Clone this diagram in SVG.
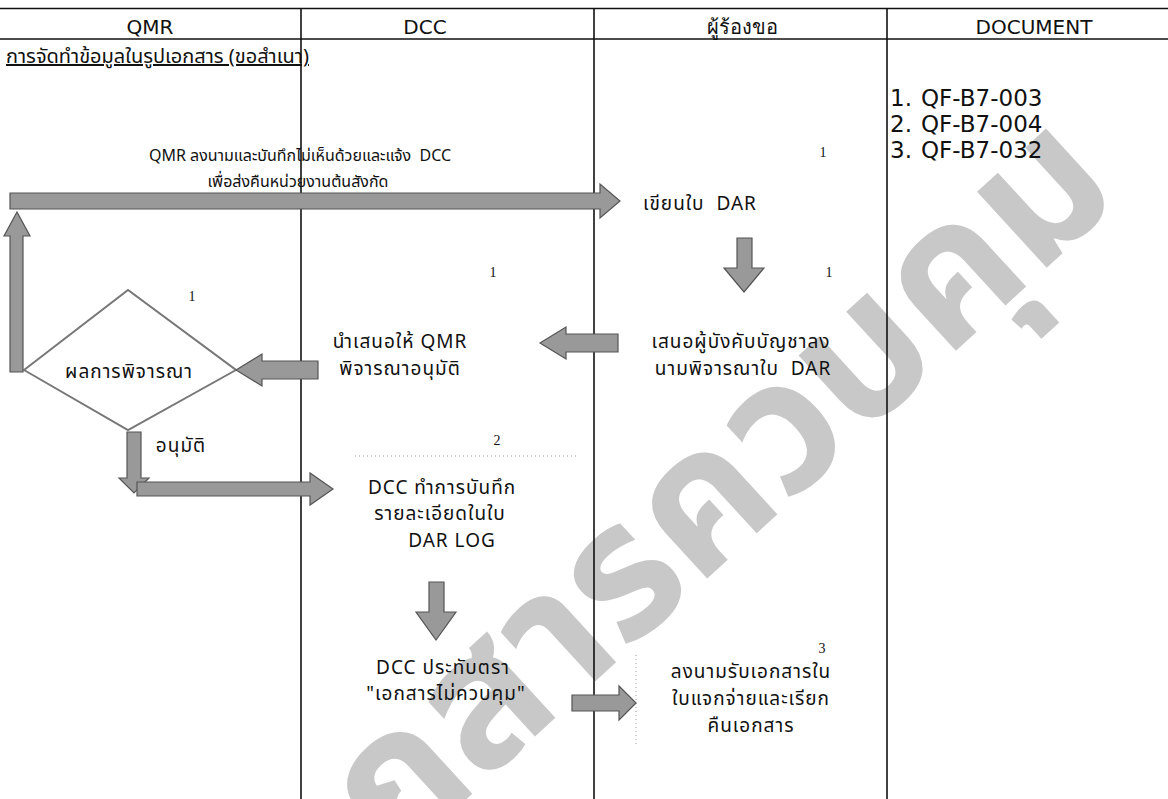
<svg xmlns="http://www.w3.org/2000/svg" width="1168" height="799" viewBox="0 0 1168 799">
<style>
.t{font-family:"Noto Sans","Noto Sans Thai","DejaVu Sans",sans-serif;font-size:19px;letter-spacing:1px;fill:#111;text-anchor:middle}
.s{font-family:"Noto Sans","Noto Sans Thai","DejaVu Sans",sans-serif;font-size:16px;fill:#111;text-anchor:middle}
.h{font-family:"DejaVu Sans","Noto Sans",sans-serif;font-size:20px;fill:#111;text-anchor:middle}
.d{font-family:"DejaVu Sans","Noto Sans",sans-serif;font-size:23px;fill:#111}
.n{font-family:"Liberation Serif",serif;font-size:14px;fill:#111;text-anchor:middle}
.ln{stroke:#111;stroke-width:1.6;fill:none}
.ar{fill:#999;stroke:#555;stroke-width:1.2}
.dot{stroke:#999;stroke-width:1;stroke-dasharray:1 3;fill:none}
.wm{font-family:"Noto Sans","Noto Sans Thai",sans-serif;font-size:188px;font-weight:bold;fill:#c8c8c8;text-anchor:middle}
</style>
<rect width="1168" height="799" fill="#fff"/>
<g id="watermark">
<text class="wm" transform="translate(696,589) rotate(-42.5)">เอกสารควบคุม</text>
</g>
<g id="lanes">
<line class="ln" x1="0" y1="8.5" x2="1168" y2="8.5"/>
<line class="ln" x1="0" y1="39" x2="1168" y2="39"/>
<line class="ln" x1="301" y1="8" x2="301" y2="799"/>
<line class="ln" x1="594" y1="8" x2="594" y2="799"/>
<line class="ln" x1="887" y1="8" x2="887" y2="799"/>
<text class="h" x="150" y="34">QMR</text>
<text class="h" x="425" y="34">DCC</text>
<text class="h" x="742" y="34">ผู้ร้องขอ</text>
<text class="h" x="1034" y="34">DOCUMENT</text>
</g>
<g id="title">
<text class="s" x="6" y="63" style="text-anchor:start;font-size:20px" text-decoration="underline">การจัดทำข้อมูลในรูปเอกสาร (ขอสำเนา)</text>
</g>
<g id="documents">
<text class="d" x="890" y="106">1.</text><text class="d" x="921" y="106">QF-B7-003</text>
<text class="d" x="890" y="132">2.</text><text class="d" x="921" y="132">QF-B7-004</text>
<text class="d" x="890" y="158">3.</text><text class="d" x="921" y="158">QF-B7-032</text>
</g>
<g id="reject-note">
<text class="s" x="300" y="161" xml:space="preserve">QMR ลงนามและบันทึกไม่เห็นด้วยและแจ้ง  DCC</text>
<text class="s" x="298" y="187">เพื่อส่งคืนหน่วยงานต้นสังกัด</text>
</g>
<g id="node-write-dar">
<text class="n" x="823" y="157">1</text>
<text class="t" x="700" y="210" xml:space="preserve">เขียนใบ  DAR</text>
</g>
<g id="node-propose-supervisor">
<text class="n" x="829" y="277">1</text>
<text class="t" x="741" y="348">เสนอผู้บังคับบัญชาลง</text>
<text class="t" x="743" y="375" xml:space="preserve">นามพิจารณาใบ  DAR</text>
</g>
<g id="node-propose-qmr">
<text class="n" x="493" y="277">1</text>
<text class="t" x="400" y="348">นำเสนอให้ QMR</text>
<text class="t" x="400" y="375">พิจารณาอนุมัติ</text>
</g>
<g id="node-decision">
<polygon points="24,370 128,290 236,370 128,430" fill="#fff" stroke="#777" stroke-width="2"/>
<text class="n" x="192" y="301">1</text>
<text class="t" x="129" y="378">ผลการพิจารณา</text>
<text class="t" x="181" y="452">อนุมัติ</text>
</g>
<g id="node-dar-log">
<text class="n" x="497" y="445">2</text>
<line class="dot" x1="355" y1="456" x2="576" y2="456"/>
<text class="t" x="442" y="494">DCC ทำการบันทึก</text>
<text class="t" x="440" y="520">รายละเอียดในใบ</text>
<text class="t" x="452" y="547">DAR LOG</text>
</g>
<g id="node-stamp">
<text class="t" x="443" y="674">DCC ประทับตรา</text>
<text class="t" x="446" y="700">"เอกสารไม่ควบคุม"</text>
</g>
<g id="node-receive">
<text class="n" x="822" y="653">3</text>
<line class="dot" x1="636" y1="655" x2="636" y2="745"/>
<text class="t" x="751" y="678">ลงนามรับเอกสารใน</text>
<text class="t" x="751" y="705">ใบแจกจ่ายและเรียก</text>
<text class="t" x="751" y="732">คืนเอกสาร</text>
</g>
<g id="connectors">
<polygon class="ar" points="10,193 600,193 600,184 620,201 600,218 600,209 10,209"/>
<polygon class="ar" points="10,372 10,236 4,236 17,212 30,236 23,236 23,372"/>
<polygon class="ar" points="737,238 752,238 752,268 764,268 744,292 724,268 737,268"/>
<polygon class="ar" points="540,343 566,327 566,334 618,334 618,352 566,352 566,359"/>
<polygon class="ar" points="236,370 262,354 262,361 318,361 318,379 262,379 262,386"/>
<polygon class="ar" points="127,432 141,432 141,478 149,478 134,493 119,478 127,478"/>
<polygon class="ar" points="137,482 310,482 310,473 333,489 310,505 310,496 137,496"/>
<polygon class="ar" points="429,582 444,582 444,612 456,612 436,640 416,612 429,612"/>
<polygon class="ar" points="572,695 619,695 619,686 636,703 619,720 619,711 572,711"/>
</g>
</svg>
